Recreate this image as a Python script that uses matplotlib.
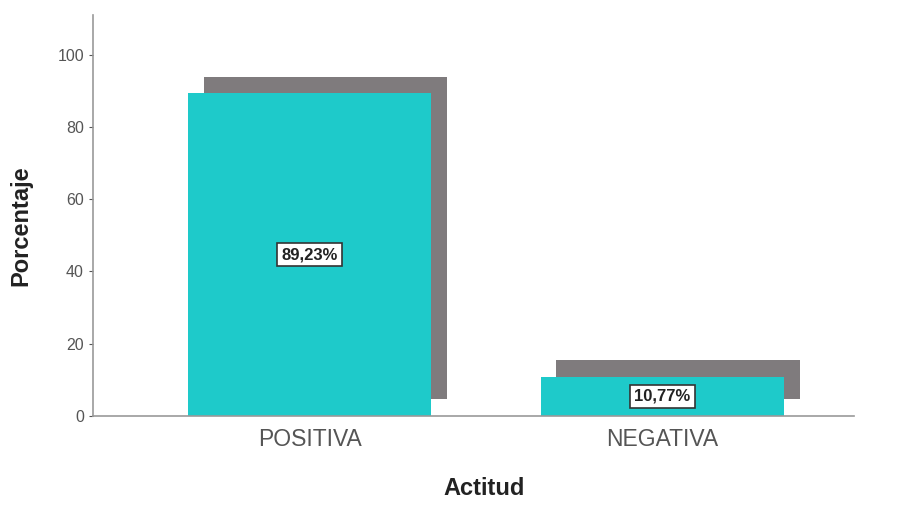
import matplotlib.pyplot as plt

plt.rcParams['font.family'] = ['Liberation Sans', 'DejaVu Sans']

# datos
categorias = ['POSITIVA', 'NEGATIVA']
porcentajes = [89.23, 10.77]
etiquetas = ['89,23%', '10,77%']

color_barra = '#1ECACA'
color_sombra = '#7F7B7D'

fig = plt.figure(figsize=(9.15, 5.11), dpi=100)
ax = fig.add_axes([0.1016, 0.186, 0.832, 0.785])

x = list(range(len(categorias)))
ancho = 0.69

# sombra desplazada detrás de cada barra
dx, dy = 0.044, 4.6
ax.bar([i + dx for i in x], porcentajes, width=ancho, bottom=dy,
       color=color_sombra, zorder=1)
ax.bar(x, porcentajes, width=ancho, color=color_barra, zorder=2)

for i, v, t in zip(x, porcentajes, etiquetas):
    ax.text(i, v / 2, t, ha='center', va='center', fontsize=12,
            fontweight='bold', color='#222222', zorder=3,
            bbox=dict(boxstyle='square,pad=0.25', facecolor='white',
                      edgecolor='#333333', linewidth=1.2))

ax.set_xlim(-0.615, 1.544)
ax.set_ylim(0, 111)
ax.set_yticks([0, 20, 40, 60, 80, 100])
ax.set_xticks(x)
ax.set_xticklabels(categorias, fontsize=16.5, color='#555555')
ax.tick_params(axis='y', labelsize=11.5, colors='#555555', length=3, width=0.8)
ax.tick_params(axis='x', length=0, pad=9)

for s in ['top', 'right']:
    ax.spines[s].set_visible(False)
for s in ['left', 'bottom']:
    ax.spines[s].set_color('#999999')
    ax.spines[s].set_linewidth(1.2)

ax.set_ylabel('Porcentaje', fontsize=17, fontweight='bold', color='#222222')
ax.set_xlabel('Actitud', fontsize=17, fontweight='bold', color='#222222')
ax.yaxis.set_label_coords(-0.079, 0.474)
ax.xaxis.set_label_coords(0.514, -0.152)

fig.savefig('out.png', dpi=100)
